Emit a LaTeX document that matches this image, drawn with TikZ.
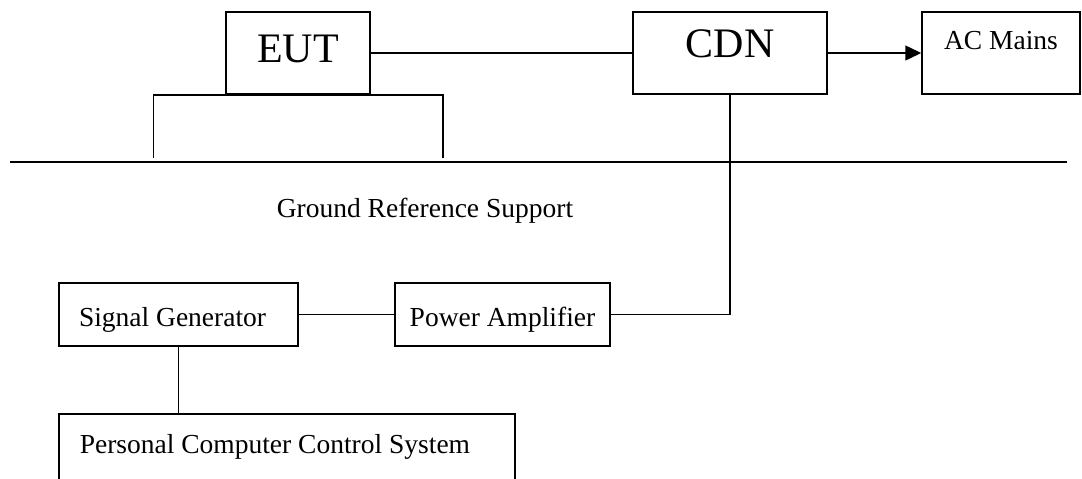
\documentclass[tikz,border=0pt]{standalone}
\usepackage{fontspec}
\setmainfont{Liberation Serif}
\usetikzlibrary{arrows.meta}
\tikzstyle{unit} = [rectangle, 
draw=black, 
line width=1.5pt, 
inner sep=0pt, 
font=\fontsize{27.5}{33}\selectfont, 
text height=25pt, 
text depth=2pt]
\tikzstyle{bigunit} = [unit, 
font=\fontsize{42}{50}\selectfont, 
minimum height=82pt]
\tikzstyle{line} = [line width=1.5pt]
\tikzstyle{arrow} = [line width=1.5pt,-{Triangle[length=16pt,width=15pt]}]

\begin{document}
\begin{tikzpicture} [x=1pt, y=1pt, node distance=100pt]
    \useasboundingbox (0,0) rectangle (1082,-479);
    \node (EUT) [bigunit, minimum width=144pt, text height=29pt, text depth=11pt] at (298,-53) {EUT};
    \node (CDN) [bigunit, minimum width=194pt, text height=29pt, text depth=21pt, right of=EUT, xshift=332pt] {CDN};
    \node (ACmains) [unit, minimum width=158pt, minimum height=82pt, text height=19pt, text depth=27pt, right of=CDN, xshift=171pt] {AC Mains};

    \node (grs) [font=\fontsize{27.5}{33}\selectfont, anchor=base] at (425,-217) {Ground Reference Support};
    \coordinate (gl) at (10,-162);
    \coordinate (gr) at (1067,-162);

    \node (siggen) [unit, minimum width=239pt, minimum height=63pt, text width=199pt, align=flush left, inner xsep=20pt] at (178.5,-314.5) {Signal Generator};
    \node (poweramp) [unit, minimum width=215pt, minimum height=63pt, right of=siggen, xshift=224pt] {Power Amplifier};
    \node (pcctrl) [unit, anchor=north west, text width=414pt, align=flush left, inner xsep=21pt, inner ysep=21pt, text height=19pt, text depth=39pt] at (58,-413) {Personal Computer Control System};

    % table under the EUT
    \draw [line] ([xshift=-72pt, yshift=-63pt]EUT.south west) |- ([xshift=72pt]EUT.south east) -- ++(0,-63);
    \draw [line] (gl) -- (gr);

    \draw [line] (EUT) -- (CDN);
    \draw [arrow] (CDN) -- (ACmains);
    \draw [line] (poweramp) -| (CDN);
    \draw [line] (siggen) -- (poweramp);
    \draw [line] (siggen.south) -- (siggen.south |- pcctrl.north);

\end{tikzpicture}
\end{document}
